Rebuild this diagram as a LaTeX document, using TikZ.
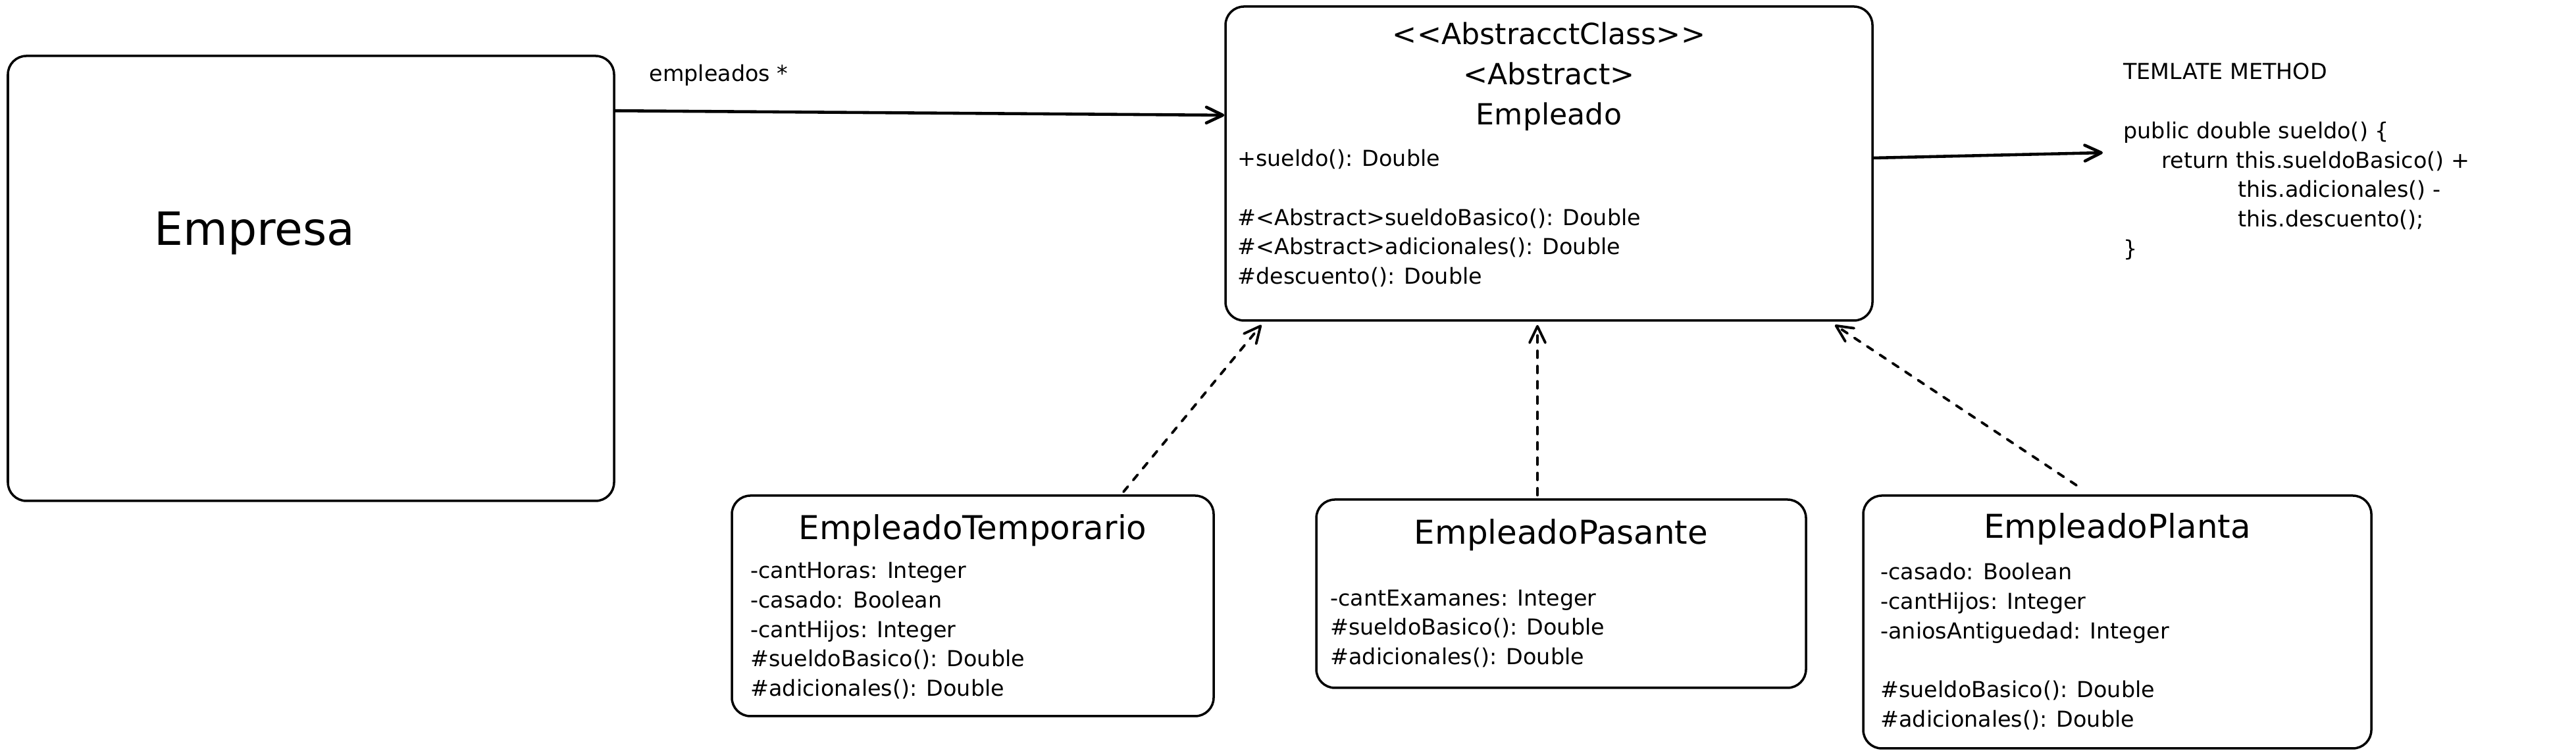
\documentclass[tikz,border=0pt]{standalone}
\usepackage{fontspec}
\setmainfont{DejaVu Sans}[Ligatures=TeXOff]
\usetikzlibrary{arrows.meta}

\begin{document}
\begin{tikzpicture}[
	caja/.style={draw, line width=1pt, rounded corners=8pt},
	titulo/.style={font=\fontsize{14.2}{17}\selectfont, anchor=base},
	cuerpo/.style={font=\fontsize{9.5}{12.8}\selectfont, align=left, anchor=base west},
	asoc/.style={line width=1.3pt, line cap=round, -{Straight Barb[length=2.5mm, width=2.4mm, round]}},
	hereda/.style={asoc, line width=1.1pt, dash pattern=on 3pt off 3.6pt}
	]
	
	\useasboundingbox (0,0) rectangle (39.14,11.47);
	
	% Empresa
	\node[caja, minimum width=9.21cm, minimum height=6.76cm] (empresa) at (4.725,7.24) {};
	\node[font=\fontsize{19.8}{24}\selectfont] (empresaT) at (3.87,7.93) {Empresa};
	
	% clase abstracta (base = ultima linea)
	\node[caja, minimum width=9.83cm, minimum height=4.77cm] (emp) at (23.535,8.985) {};
	\node[titulo, font=\fontsize{12.6}{17.45}\selectfont, align=center] (empT) at (23.535,9.57) {<<AbstracctClass>>\\<Abstract>\\Empleado};
	\node[cuerpo] (empB) at (18.68,7.15) {+sueldo(): Double\\[12.8pt]\#<Abstract>sueldoBasico(): Double\\\#<Abstract>adicionales(): Double\\\#descuento(): Double};
	
	\node[cuerpo] (tmpl) at (32.14,7.57) {TEMLATE METHOD\\[12.8pt]public double sueldo() \{\\\hspace*{0.58cm}return this.sueldoBasico() +\\\hspace*{1.74cm}this.adicionales() -\\\hspace*{1.74cm}this.descuento();\\\}};
	\coordinate (tmplIn) at (31.95,9.15);
	
	% subclases
	\node[caja, minimum width=7.32cm, minimum height=3.35cm] (tmp) at (14.78,2.265) {};
	\node[titulo] (tmpT) at (14.78,3.27) {EmpleadoTemporario};
	\node[cuerpo] (tmpB) at (11.28,0.89) {-cantHoras: Integer\\-casado: Boolean\\-cantHijos: Integer\\\#sueldoBasico(): Double\\\#adicionales(): Double};
	
	\node[caja, minimum width=7.44cm, minimum height=2.86cm] (pas) at (23.72,2.45) {};
	\node[titulo] (pasT) at (23.72,3.20) {EmpleadoPasante};
	\node[cuerpo] (pasB) at (20.09,1.37) {-cantExamanes: Integer\\\#sueldoBasico(): Double\\\#adicionales(): Double};
	
	\node[caja, minimum width=7.72cm, minimum height=3.84cm] (pla) at (32.17,2.02) {};
	\node[titulo] (plaT) at (32.17,3.29) {EmpleadoPlanta};
	\node[cuerpo] (plaB) at (28.45,0.42) {-casado: Boolean\\-cantHijos: Integer\\-aniosAntiguedad: Integer\\[12.8pt]\#sueldoBasico(): Double\\\#adicionales(): Double};
	
	
	\draw[asoc] ([yshift=-0.85cm]empresa.north east) -- ([yshift=0.735cm]emp.west) node[pos=0.17, above=2.5mm, font=\fontsize{9.5}{12.8}\selectfont] {empleados *};
	\draw[asoc] ([yshift=0.085cm]emp.east) -- (tmplIn);
	
	\draw[hereda] ([shift={(2.29cm,0.04cm)}]tmp.north) -- ([shift={(-4.37cm,-0.05cm)}]emp.south);
	\draw[hereda] ([shift={(-0.36cm,0.05cm)}]pas.north) -- ([shift={(-0.175cm,-0.05cm)}]emp.south);
	\draw[hereda] ([shift={(-0.62cm,0.14cm)}]pla.north) -- ([shift={(4.345cm,-0.05cm)}]emp.south);
	
\end{tikzpicture}
\end{document}
